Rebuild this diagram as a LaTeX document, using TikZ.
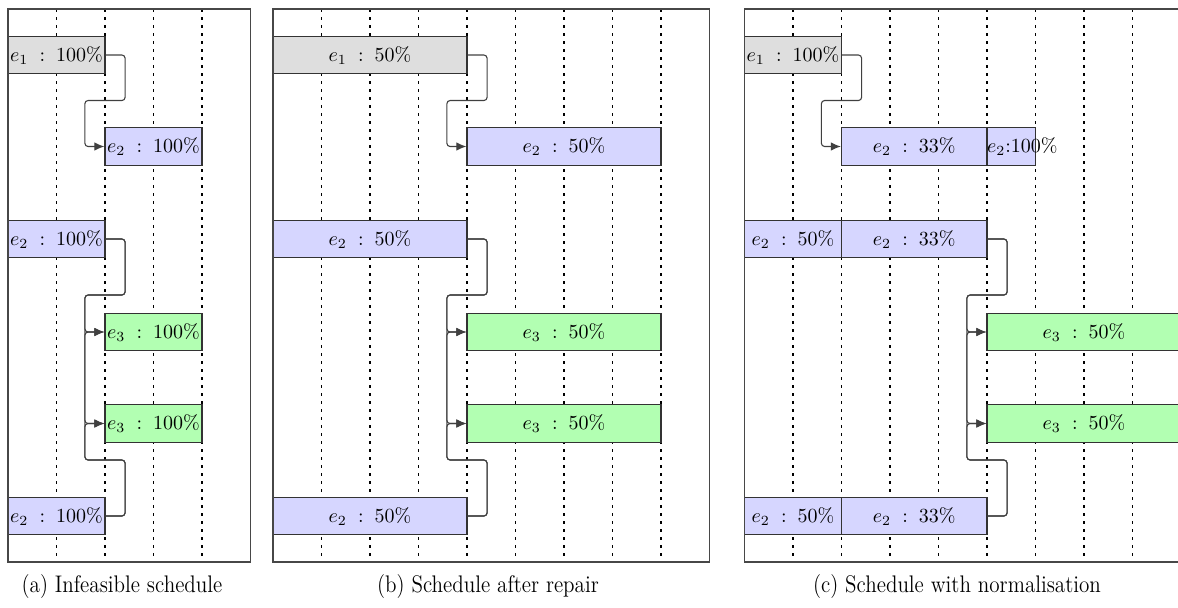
\documentclass[tikz,border=0pt]{standalone}
\usetikzlibrary{arrows.meta,calc}
% task label: name, colon and share, kept on one line
\newcommand\lbl[2]{\mbox{$#1 \;:\; #2\%$}}
\begin{document}
\begin{tikzpicture}[x=0.5pt,y=-0.5pt,
  frame/.style={draw=black!72, line width=0.7pt},
  gridline/.style={draw=black, line width=0.55pt, dash pattern=on 1.3pt off 2.7pt},
  task/.style={draw=black!80, line width=0.6pt, minimum height=18.75pt,
    inner xsep=0pt, inner ysep=0pt, align=center},
  c1/.style={task, text width=24.25pt},
  c2/.style={task, text width=48.5pt},
  c3/.style={task, text width=72.75pt},
  c4/.style={task, text width=97pt},
  tone1/.style={fill=black!13},
  tone2/.style={fill=blue!16},
  tone3/.style={fill=green!30},
  link/.style={draw=black!75, line width=0.55pt, rounded corners=1.6pt,
    -{Latex[length=5pt,width=4.2pt]}},
  caption/.style={font=\fontsize{12}{14}\selectfont, anchor=base, inner sep=0pt}
]
\useasboundingbox (0,0) rectangle (1178,607);
\clip (0,0) rectangle (1178,607);

% dotted time grid
\foreach \k in {1,...,4} \draw[gridline] ({8+48.5*\k},9) -- ++(0,553);
\foreach \k in {1,...,8} \draw[gridline] ({273+48.5*\k},9) -- ++(0,553);
\foreach \k in {1,...,8} \draw[gridline] ({744.5+48.5*\k},9) -- ++(0,553);

% (a) infeasible schedule
\node[c2, tone1] (a1) at (56.5,55)     {\lbl{e_1}{100}};
\node[c2, tone2] (a2) at (153.5,146.5) {\lbl{e_2}{100}};
\node[c2, tone2] (a3) at (56.5,239)    {\lbl{e_2}{100}};
\node[c2, tone3] (a4) at (153.5,332)   {\lbl{e_3}{100}};
\node[c2, tone3] (a5) at (153.5,423.5) {\lbl{e_3}{100}};
\node[c2, tone2] (a6) at (56.5,516)    {\lbl{e_2}{100}};

% (b) schedule after repair
\node[c4, tone1] (b1) at (370,55)    {\lbl{e_1}{50}};
\node[c4, tone2] (b2) at (564,146.5) {\lbl{e_2}{50}};
\node[c4, tone2] (b3) at (370,239)   {\lbl{e_2}{50}};
\node[c4, tone3] (b4) at (564,332)   {\lbl{e_3}{50}};
\node[c4, tone3] (b5) at (564,423.5) {\lbl{e_3}{50}};
\node[c4, tone2] (b6) at (370,516)   {\lbl{e_2}{50}};

% (c) schedule with normalisation
\node[c2, tone1] (c1) at (793,55)         {\lbl{e_1}{100}};
\node[c3, tone2] (c2) at (914.25,146.5)   {\lbl{e_2}{33}};
\node[c1, tone2] (c2x) at (1011.25,146.5) {\mbox{$e_2$:100\%}};
\node[c2, tone2] (c3a) at (793,239)       {\lbl{e_2}{50}};
\node[c3, tone2] (c3b) at (914.25,239)    {\lbl{e_2}{33}};
\node[c4, tone3] (c4) at (1084,332)       {\lbl{e_3}{50}};
\node[c4, tone3] (c5) at (1084,423.5)     {\lbl{e_3}{50}};
\node[c2, tone2] (c6a) at (793,516)       {\lbl{e_2}{50}};
\node[c3, tone2] (c6b) at (914.25,516)    {\lbl{e_2}{33}};

% panel frames
\draw[frame] (8,9) rectangle (250.5,562);
\draw[frame] (273,9) rectangle (709.5,562);
\draw[frame] (744.5,9) rectangle (1181,562);

% precedence links
\foreach \p in {a,b} {
  \draw[link] (\p1.east) -- ++(19.5,0) -- ++(0,45.5) -| ($(\p2.west)+(-19.5,0)$) -- (\p2.west);
  \draw[link] (\p3.east) -- ++(19.5,0) -- ++(0,56) -| ($(\p4.west)+(-19.5,0)$) -- (\p4.west);
  \draw[link] (\p3.east) -- ++(19.5,0) -- ++(0,56) -| ($(\p5.west)+(-19.5,0)$) -- (\p5.west);
  \draw[link] (\p6.east) -- ++(19.5,0) -- ++(0,-56) -| ($(\p5.west)+(-19.5,0)$) -- (\p5.west);
  \draw[link] (\p6.east) -- ++(19.5,0) -- ++(0,-56) -| ($(\p4.west)+(-19.5,0)$) -- (\p4.west);
}
\draw[link] (c1.east) -- ++(19.5,0) -- ++(0,45.5) -| ($(c2.west)+(-19.5,0)$) -- (c2.west);
\draw[link] (c3b.east) -- ++(19.5,0) -- ++(0,56) -| ($(c4.west)+(-19.5,0)$) -- (c4.west);
\draw[link] (c3b.east) -- ++(19.5,0) -- ++(0,56) -| ($(c5.west)+(-19.5,0)$) -- (c5.west);
\draw[link] (c6b.east) -- ++(19.5,0) -- ++(0,-56) -| ($(c5.west)+(-19.5,0)$) -- (c5.west);
\draw[link] (c6b.east) -- ++(19.5,0) -- ++(0,-56) -| ($(c4.west)+(-19.5,0)$) -- (c4.west);

% sub-captions
\node[caption] (capa) at (122,592) {\scalebox{0.88}[1]{(a) Infeasible schedule}};
\node[caption] (capb) at (488,592) {\scalebox{0.88}[1]{(b) Schedule after repair}};
\node[caption] (capc) at (957,592) {\scalebox{0.88}[1]{(c) Schedule with normalisation}};
\end{tikzpicture}
\end{document}
